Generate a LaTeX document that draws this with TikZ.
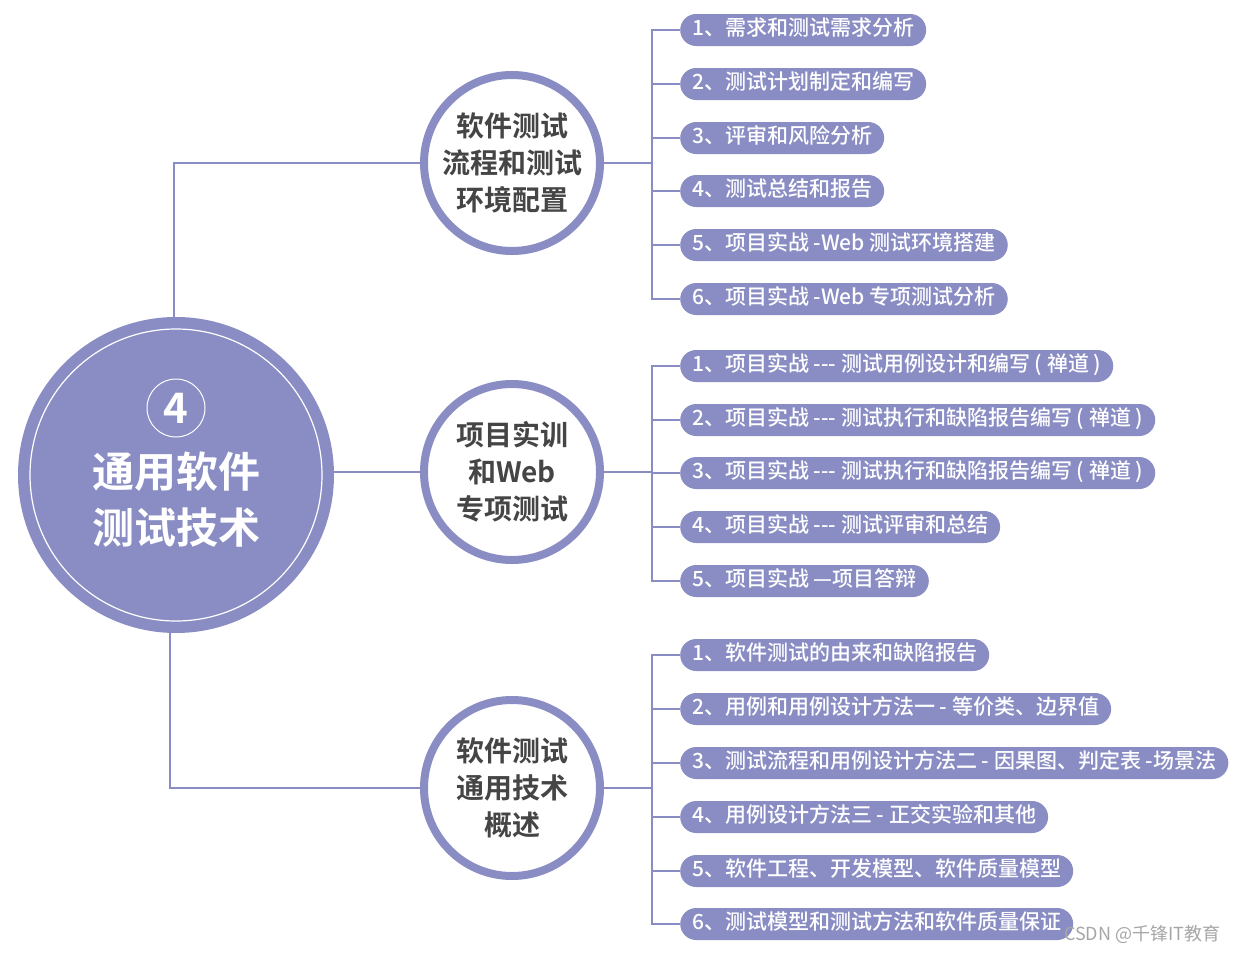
\documentclass[tikz,border=0pt]{standalone}
\usepackage{fontspec}
\setmainfont{Noto Sans CJK SC Medium}
\newfontfamily\cjkb{Noto Sans CJK SC Bold}
\newfontfamily\cjkr{Noto Sans CJK SC}
\definecolor{pur}{HTML}{8A8DC4}
\definecolor{dk}{HTML}{454545}
\begin{document}
\begin{tikzpicture}[x=1pt,y=-1pt,
  pill/.style={fill=pur,rounded corners=16pt,minimum height=32pt,anchor=west,text=white,font=\fontsize{21}{21}\selectfont,inner xsep=12pt,inner ysep=0pt,text height=15pt,text depth=4pt,align=left},
  mid/.style={circle,draw=pur,line width=8pt,fill=white,minimum size=176pt,inner sep=0pt,align=center,text=dk,font=\cjkb\fontsize{28}{37}\selectfont},
  ln/.style={draw=pur,line width=2pt}]
\fill[white] (0,0) rectangle (1239,953);
\useasboundingbox (0,0) rectangle (1239,953);
% main
\node[circle,fill=pur,minimum size=316pt,inner sep=0pt] (m) at (176,475) {};
\draw[white,line width=1.2pt] (176,475) circle (146);
\node[circle,draw=white,line width=1pt,minimum size=58pt,inner sep=0pt,text=white,font=\cjkb\fontsize{42}{42}\selectfont] (four) at (176,408) {4};
\node[text=white,font=\cjkb\fontsize{42}{56}\selectfont,align=center] (mt) at (176,500) {通用软件\\测试技术};
% mid nodes
\node[mid] (a) at (512,163) {软件测试\\流程和测试\\环境配置};
\node[mid] (b) at (512,472) {项目实训\\和Web\\专项测试};
\node[mid] (c) at (512,788) {软件测试\\通用技术\\概述};
\coordinate (mt1) at (174,318);
\coordinate (mb1) at (170,632);
\coordinate (mm1) at (334,472);
\draw[ln] (mt1) |- (a.west);
\draw[ln] (mm1) -- (b.west);
\draw[ln] (mb1) |- (c.west);
% pills
\foreach \y/\t [count=\i] in {
 30/{1、需求和测试需求分析},
 84/{2、测试计划制定和编写},
 138/{3、评审和风险分析},
 191/{4、测试总结和报告},
 245/{5、项目实战 -Web 测试环境搭建},
 299/{6、项目实战 -Web 专项测试分析},
 366/{1、项目实战 -{}-{}- 测试用例设计和编写 ( 禅道 )},
 420/{2、项目实战 -{}-{}- 测试执行和缺陷报告编写 ( 禅道 )},
 473/{3、项目实战 -{}-{}- 测试执行和缺陷报告编写 ( 禅道 )},
 527/{4、项目实战 -{}-{}- 测试评审和总结},
 581/{5、项目实战 —项目答辩},
 655/{1、软件测试的由来和缺陷报告},
 709/{2、用例和用例设计方法一 - 等价类、边界值},
 763/{3、测试流程和用例设计方法二 - 因果图、判定表 -场景法},
 817/{4、用例设计方法三 - 正交实验和其他},
 871/{5、软件工程、开发模型、软件质量模型},
 924/{6、测试模型和测试方法和软件质量保证}}
{
  \node[pill] (p\i) at (680,\y) {\t};
}
\foreach \g/\i in {a/1,a/2,a/3,a/4,a/5,a/6,b/7,b/8,b/9,b/10,b/11,c/12,c/13,c/14,c/15,c/16,c/17}{
  \draw[ln] (\g.east) -- ++(48,0) |- (p\i.west);
}
\node[text=gray!70,font=\cjkr\fontsize{18}{18}\selectfont,anchor=east] (wm) at (1224,934) {CSDN @千锋IT教育};
\end{tikzpicture}
\end{document}
